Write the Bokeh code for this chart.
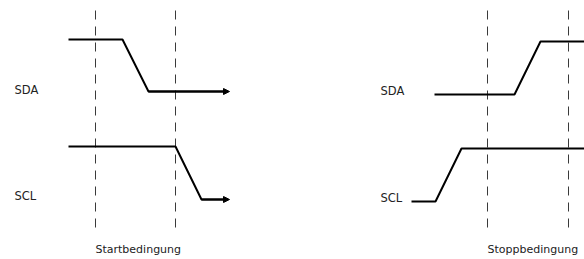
from bokeh.plotting import figure
from bokeh.models import Range1d, Arrow, NormalHead
from bokeh.core.properties import value
from bokeh.embed import file_html
from bokeh.resources import INLINE

# Waveform points (diagram coordinates, y grows downward)
start_sda_x = [68, 122, 148, 226]
start_sda_y = [39, 39, 91, 91]
start_scl_x = [68, 175, 201, 226]
start_scl_y = [146, 146, 199, 199]
stop_sda_x = [434, 514, 540, 590]
stop_sda_y = [94, 94, 41, 41]
stop_scl_x = [411, 435, 461, 590]
stop_scl_y = [201, 201, 148, 148]

marker_x = [95, 175, 487, 568]
marker_top = [10, 10, 10, 10]
marker_bottom = [228, 228, 230, 230]

label_texts = ["SDA", "SCL", "SDA", "SCL"]
label_x = [14, 14, 380, 380]
label_y = [89, 195, 90, 197]

caption_texts = ["Startbedingung", "Stoppbedingung"]
caption_x = [95, 487]
caption_y = [249, 249]

p = figure(width=584, height=259, output_backend="svg", toolbar_location=None,
           x_range=Range1d(0, 584), y_range=Range1d(259, 0),
           min_border=0, outline_line_color=None)
p.axis.visible = False
p.grid.visible = False

p.segment(x0=marker_x, y0=marker_top, x1=marker_x, y1=marker_bottom,
          line_color="#3a3a3a", line_width=1, line_dash="9 7")

for xs, ys in [(start_sda_x, start_sda_y), (start_scl_x, start_scl_y),
               (stop_sda_x, stop_sda_y), (stop_scl_x, stop_scl_y)]:
    p.line(xs, ys, line_color="black", line_width=2)

for xs, ys in [(start_sda_x, start_sda_y), (start_scl_x, start_scl_y)]:
    p.add_layout(Arrow(end=NormalHead(size=6, fill_color="black", line_color="black"),
                       x_start=xs[-2], y_start=ys[-1], x_end=xs[-1] + 3, y_end=ys[-1],
                       line_color="black", line_width=2))

p.text(x=label_x, y=label_y, text=label_texts, text_font=value("DejaVu Sans"),
       text_font_size="11.5px", text_baseline="middle", text_align="left",
       text_color="#222222")
p.text(x=caption_x, y=caption_y, text=caption_texts, text_font=value("DejaVu Sans"),
       text_font_size="11px", text_baseline="middle", text_align="left",
       text_color="#222222")

open("out.html", "w").write(file_html(p, INLINE))
